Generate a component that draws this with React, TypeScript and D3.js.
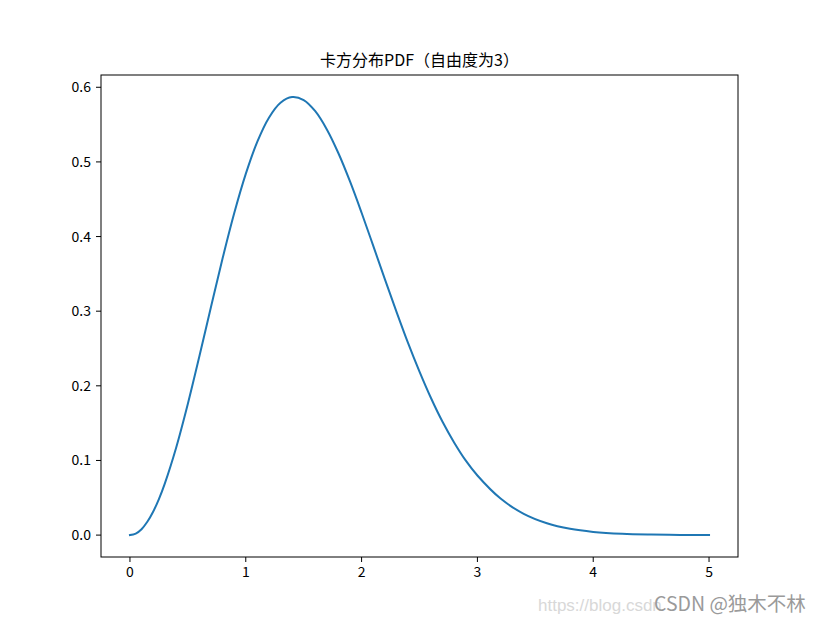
import React from "react";
import * as d3 from "d3";

const xValues = [0, 0.05, 0.1, 0.15, 0.2, 0.25, 0.3, 0.4, 0.5, 0.6, 0.7, 0.8, 0.9, 1.0, 1.1, 1.2, 1.3, 1.4, 1.5, 1.6, 1.7, 1.8, 1.9, 2.0, 2.1, 2.2, 2.3, 2.4, 2.5, 2.6, 2.7, 2.8, 2.9, 3.0, 3.2, 3.4, 3.6, 3.8, 4.0, 4.25, 4.5, 4.75, 5.0];
const yValues = [0, 0.002, 0.0079, 0.0178, 0.0313, 0.0483, 0.0687, 0.1178, 0.176, 0.2399, 0.306, 0.3708, 0.4311, 0.4839, 0.5272, 0.5593, 0.5793, 0.5869, 0.5829, 0.5679, 0.5435, 0.5116, 0.4738, 0.4319, 0.3878, 0.3433, 0.2998, 0.2579, 0.2191, 0.1834, 0.1515, 0.1238, 0.0997, 0.0798, 0.0489, 0.0285, 0.0159, 0.0084, 0.0043, 0.0017, 0.00065, 0.0002, 0.00001];
const xTicks = [0, 1, 2, 3, 4, 5];
const yTicks = [0.0, 0.1, 0.2, 0.3, 0.4, 0.5, 0.6];
const title = "卡方分布PDF（自由度为3）";

export default function App() {
  const W = 820, H = 622;
  const left = 101, right = 738, top = 75, bottom = 557;
  const x = d3.scaleLinear().domain([-0.25, 5.25]).range([left, right]);
  const y = d3.scaleLinear().domain([-0.02935, 0.61645]).range([bottom, top]);
  const pts = xValues.map((v, i) => [v, yValues[i]] as [number, number]);
  const line = d3.line<[number, number]>().x(d => x(d[0])).y(d => y(d[1])).curve(d3.curveCatmullRom.alpha(0.5));
  const font = "'Noto Sans CJK SC', 'DejaVu Sans', sans-serif";
  return (
    <svg width={W} height={H} style={{ position: "absolute", left: 0, top: 0, background: "#fff" }}>
      <rect x={0} y={0} width={W} height={H} fill="#fff" />
      <path d={line(pts) || ""} fill="none" stroke="#1f77b4" strokeWidth={2} strokeLinejoin="round" strokeLinecap="square" />
      <rect x={left} y={top} width={right - left} height={bottom - top} fill="none" stroke="#000" strokeWidth={1} />
      {xTicks.map(t => (
        <g key={"x" + t}>
          <line x1={x(t)} x2={x(t)} y1={bottom} y2={bottom + 5} stroke="#000" strokeWidth={1} />
          <text x={x(t)} y={bottom + 20} textAnchor="middle" fontFamily={font} fontSize={14} fill="#000">{t}</text>
        </g>
      ))}
      {yTicks.map(t => (
        <g key={"y" + t}>
          <line x1={left - 5} x2={left} y1={y(t)} y2={y(t)} stroke="#000" strokeWidth={1} />
          <text x={left - 10} y={y(t) + 5} textAnchor="end" fontFamily={font} fontSize={14} fill="#000">{t.toFixed(1)}</text>
        </g>
      ))}
      <text x={(left + right) / 2} y={top - 9} textAnchor="middle" fontFamily={font} fontSize={16} fill="#000">{title}</text>
      <text x={538} y={611} fontFamily="'Liberation Sans', Arial, sans-serif" fontSize={17} fill="#d8d8d8">https://blog.csdn</text>
      <text x={654} y={611} fontFamily={font} fontSize={19.5} fill="#9a9a9a">CSDN @独木不林</text>
    </svg>
  );
}
